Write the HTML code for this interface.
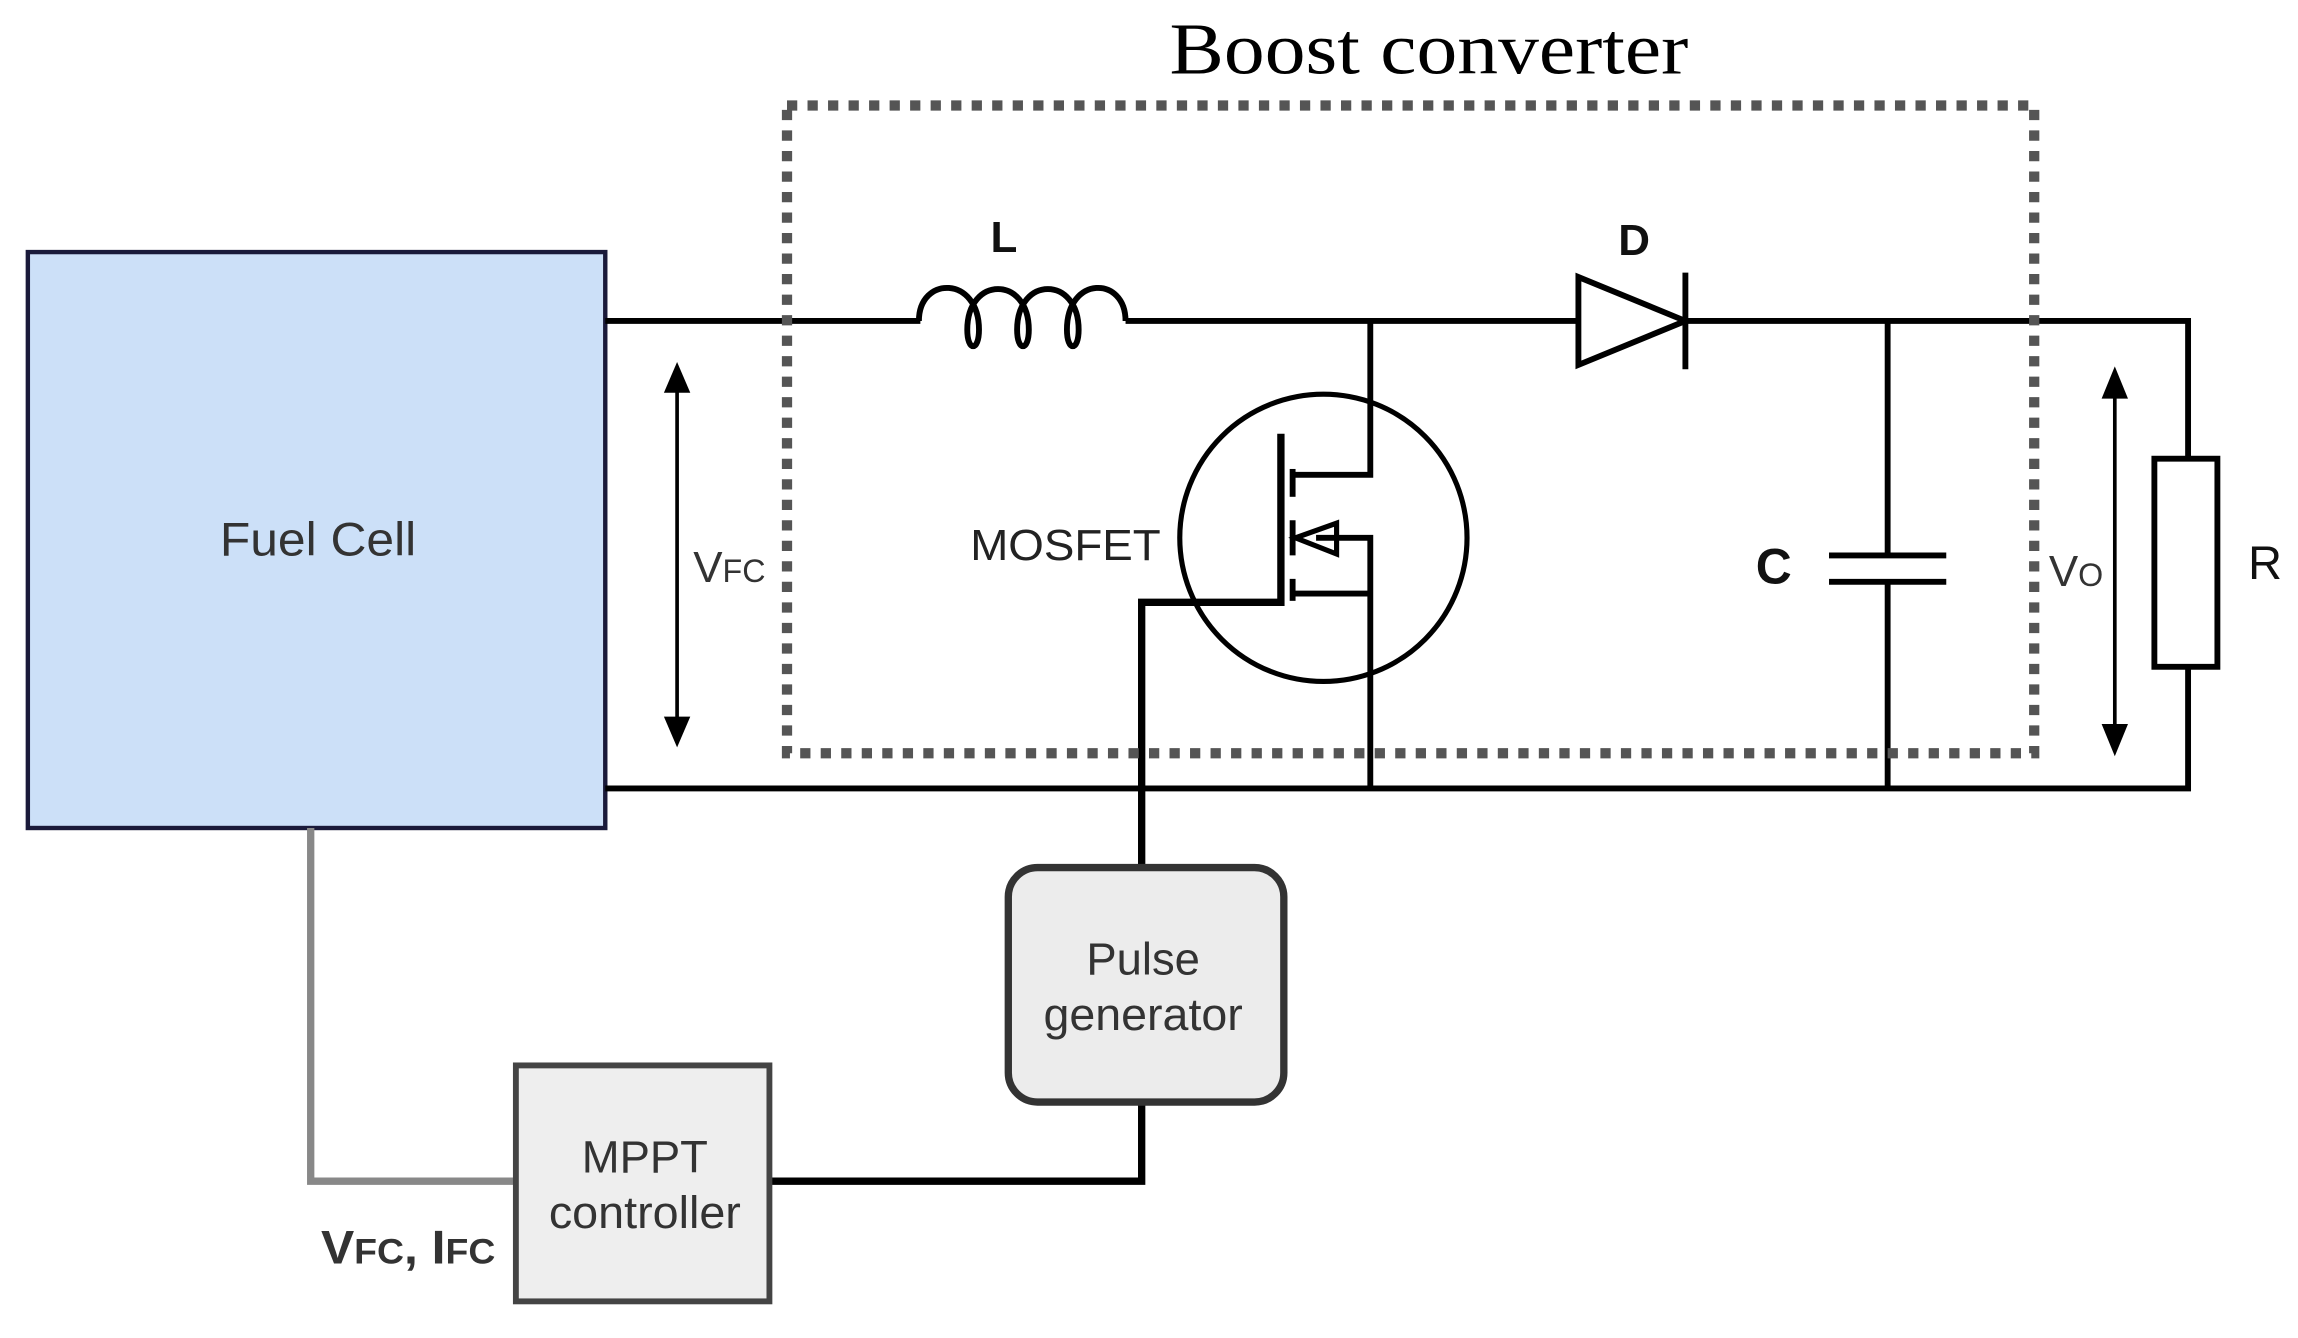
<!DOCTYPE html>
<html><head><meta charset="utf-8"><style>
html,body{margin:0;padding:0;background:#fff;}
svg{display:block;}
</style></head><body>
<svg width="2298" height="1338" viewBox="0 0 1568 913" preserveAspectRatio="none" xmlns="http://www.w3.org/2000/svg">
<rect width="1568" height="913" fill="#fff"/>
<text x="975" y="50" font-family="Liberation Serif, serif" font-size="50" text-anchor="middle" fill="#000" textLength="354" lengthAdjust="spacingAndGlyphs">Boost converter</text>
<!-- Fuel cell -->
<rect x="19" y="172" width="394" height="393" fill="#cce0f8" stroke="#1a1a3a" stroke-width="3"/>
<text x="217" y="379" font-family="Liberation Sans, sans-serif" font-size="32" text-anchor="middle" fill="#333" textLength="134" lengthAdjust="spacingAndGlyphs">Fuel Cell</text>
<g stroke="#000" stroke-width="4" fill="none">
<line x1="413" y1="219" x2="628" y2="219"/>
<path d="M627,219 C627,188 668,188 668,225 C668,240 660,240 660,225 C660,188 702,188 702,225 C702,240 694,240 694,225 C694,188 736,188 736,225 C736,240 728,240 728,225 C728,188 768,188 768,219"/>
<line x1="768" y1="219" x2="1077" y2="219"/>
<polygon points="1077,189 1077,249 1150,219"/>
<line x1="1150" y1="186" x2="1150" y2="252"/>
<polyline points="1150,219 1493,219 1493,313"/>
<rect x="1470" y="313" width="43" height="142"/>
<polyline points="1493,455 1493,538 413,538"/>
<line x1="1288" y1="219" x2="1288" y2="379"/>
<line x1="1248" y1="379" x2="1328" y2="379"/>
<line x1="1248" y1="397" x2="1328" y2="397"/>
<line x1="1288" y1="397" x2="1288" y2="538"/>
<circle cx="903" cy="367" r="98" stroke-width="3.5"/>
<polyline points="935,219 935,324 882,324"/>
<polyline points="935,538 935,367 898,367"/>
<line x1="882" y1="405" x2="935" y2="405"/>
<line x1="882" y1="320" x2="882" y2="339"/>
<line x1="882" y1="355" x2="882" y2="379"/>
<line x1="882" y1="395" x2="882" y2="410"/>
<polygon points="884,367 912,357 912,378" stroke-width="3.5"/>
<polyline points="874,296 874,411 779,411 779,592" stroke-width="5"/>
<line x1="462" y1="262" x2="462" y2="495" stroke-width="2.5"/>
<line x1="1443" y1="266" x2="1443" y2="500" stroke-width="2.5"/>
</g>
<g fill="#000">
<polygon points="462,247 453,268 471,268"/>
<polygon points="462,510 453,489 471,489"/>
<polygon points="1443,250 1434,272 1452,272"/>
<polygon points="1443,516 1434,494 1452,494"/>
</g>
<rect x="537" y="72" width="851" height="442" fill="none" stroke="#555" stroke-width="7" stroke-dasharray="7,7"/>
<g font-family="Liberation Sans, sans-serif" fill="#111">
<text x="685" y="172" font-size="30" font-weight="bold" text-anchor="middle">L</text>
<text x="1115" y="174" font-size="30" font-weight="bold" text-anchor="middle">D</text>
<text x="662" y="382" font-size="30" fill="#222" textLength="130" lengthAdjust="spacingAndGlyphs">MOSFET</text>
<text x="1198" y="398" font-size="34" font-weight="bold">C</text>
<text x="1534" y="395" font-size="32">R</text>
<text x="473" y="397" font-size="30" fill="#333">V<tspan font-size="22">FC</tspan></text>
<text x="1398" y="400" font-size="30" fill="#333">V<tspan font-size="22">O</tspan></text>
</g>
<polyline points="212,565 212,806 351,806" fill="none" stroke="#888" stroke-width="5"/>
<polyline points="525,806 779,806 779,752" fill="none" stroke="#000" stroke-width="5"/>
<rect x="688" y="592" width="188" height="160" rx="20" fill="#ececec" stroke="#333" stroke-width="5"/>
<text x="780" y="665" font-family="Liberation Sans, sans-serif" font-size="31" text-anchor="middle" fill="#333">Pulse</text>
<text x="780" y="703" font-family="Liberation Sans, sans-serif" font-size="31" text-anchor="middle" fill="#333" textLength="136" lengthAdjust="spacingAndGlyphs">generator</text>
<rect x="352" y="727" width="173" height="161" fill="#eee" stroke="#444" stroke-width="4"/>
<text x="440" y="800" font-family="Liberation Sans, sans-serif" font-size="31" text-anchor="middle" fill="#333">MPPT</text>
<text x="440" y="838" font-family="Liberation Sans, sans-serif" font-size="31" text-anchor="middle" fill="#333" textLength="131" lengthAdjust="spacingAndGlyphs">controller</text>
<text x="219" y="862" font-family="Liberation Sans, sans-serif" font-size="32" font-weight="bold" fill="#333" textLength="119" lengthAdjust="spacingAndGlyphs">V<tspan font-size="24">FC</tspan>, I<tspan font-size="24">FC</tspan></text>
</svg>
</body></html>
